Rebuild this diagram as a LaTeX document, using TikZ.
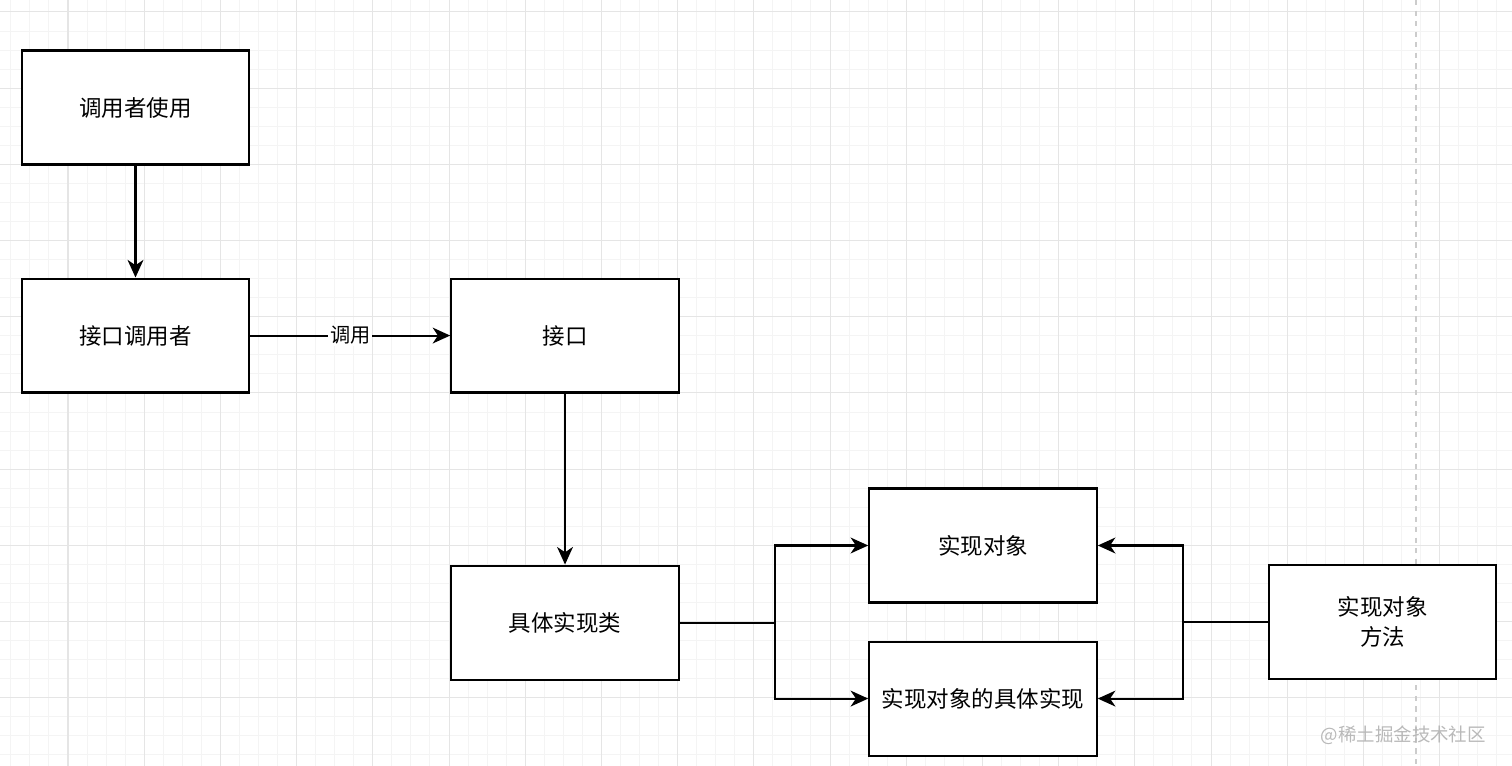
\documentclass[tikz,border=0pt]{standalone}
\usepackage{fontspec}
\newfontfamily\cjk{Noto Sans CJK SC}
\usetikzlibrary{arrows.meta, positioning}

\begin{document}
\begin{tikzpicture}[
  x=0.02cm, y=-0.02cm,
  box/.style={rectangle, draw=black, fill=white, line width=1.2pt,
              align=center, minimum width=4.55cm, minimum height=2.28cm,
              font=\cjk\fontsize{12.8}{17}\selectfont, inner sep=2pt},
  arr/.style={-{Stealth[length=10pt, width=9pt, inset=3pt]}, line width=1.2pt},
  wire/.style={line width=1.2pt},
  lbl/.style={font=\cjk\fontsize{11.5}{14}\selectfont, fill=white, inner sep=1pt},
  minorgrid/.style={draw=gray!9, line width=0.57pt},
  majorgrid/.style={draw=gray!20, line width=0.57pt}
]
\useasboundingbox (0,0) rectangle (1512,766);
\fill[white] (0,0) rectangle (1512,766);

% background grid
\foreach \i in {0,...,78} \draw[minorgrid] ({10.85+\i*19.05},0) -- ++(0,766);
\foreach \i in {0,...,39} \draw[minorgrid] (0,{12+\i*19.05}) -- ++(1512,0);
\foreach \i in {0,...,18} \draw[majorgrid] ({68+\i*76.2},0) -- ++(0,766);
\foreach \i in {0,...,9}  \draw[majorgrid] (0,{12+\i*76.2}) -- ++(1512,0);
\draw[dashed, gray!40, line width=0.8pt] (1416,0) -- (1416,766);

\node[box] (user) at (135.5,107.5) {调用者使用};
\node[box, below=2.24cm of user] (caller) {接口调用者};
\node[box, right=4cm of caller] (iface) {接口};
\node[box, below=3.42cm of iface] (impl) {具体实现类};
\node[box] (obj) at (983,545.5) {实现对象};
\node[box, below=0.74cm of obj] (objimpl) {实现对象的具体实现};
\node[box] (method) at (1382.5,622) {实现对象\\方法};

\draw[arr] (user) -- (caller);
\draw[arr] (caller) -- node[lbl] {调用} (iface);
\draw[arr] (iface) -- (impl);

\draw[wire] (impl.east) -- ++(95,0) coordinate (split1);
\draw[arr] (split1) |- (obj);
\draw[arr] (split1) |- (objimpl);

\draw[wire] (method.west) -- ++(-85,0) coordinate (split2);
\draw[arr] (split2) |- (obj);
\draw[arr] (split2) |- (objimpl);

\node[font=\cjk\fontsize{10.5}{13}\selectfont, text=gray!55, anchor=east] (mark) at (1492,735) {@稀土掘金技术社区};

\end{tikzpicture}
\end{document}
